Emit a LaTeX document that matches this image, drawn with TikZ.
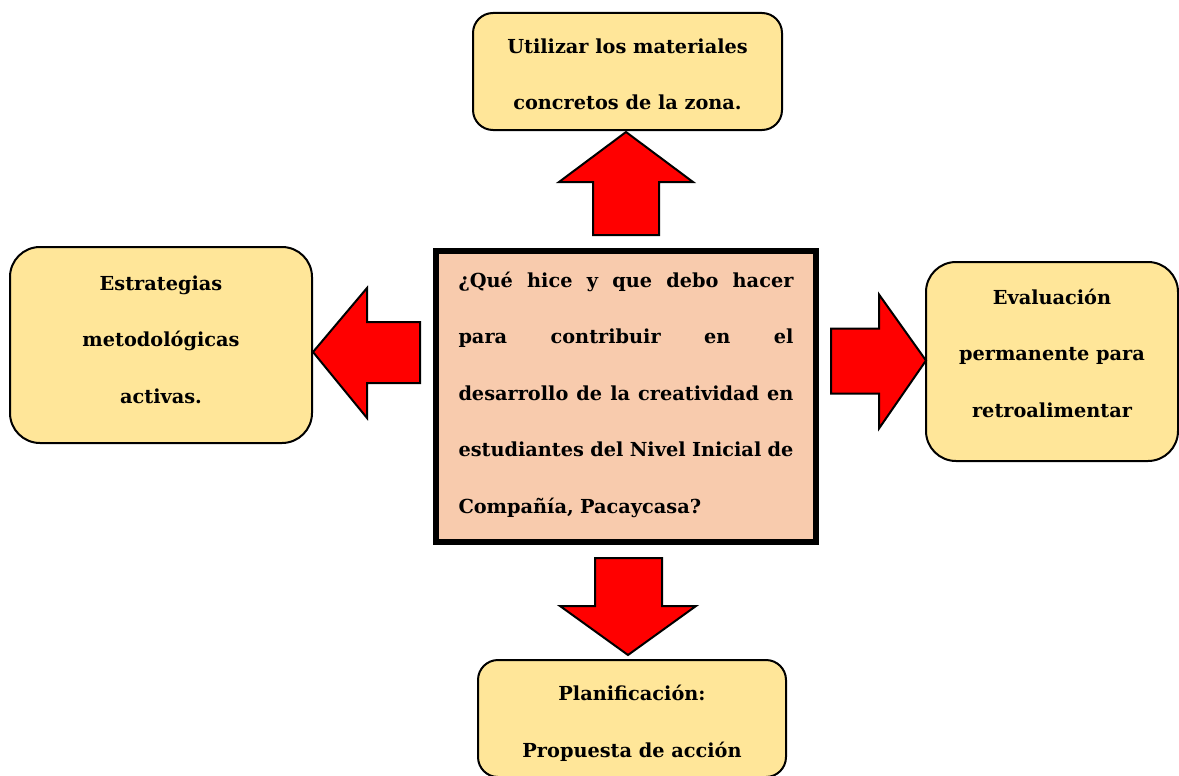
\documentclass[tikz,border=0pt]{standalone}
\usepackage{fontspec}
\setmainfont{DejaVu Serif}
\usepackage{xcolor}
\usepackage{tikz}
\usetikzlibrary{positioning, calc}
\definecolor{ideayellow}{HTML}{FFE699}
\definecolor{questionpeach}{HTML}{F8CBAD}
\definecolor{arrowred}{HTML}{FF0000}
\newcommand{\fullline}[1]{\hbox to 335pt{#1}}

\begin{document}
\begin{tikzpicture}[x=1pt, y=-1pt,
		every node/.style={font=\bfseries\fontsize{19.3}{56.5}\selectfont, inner sep=0pt},
		idea/.style={draw=black, line width=2pt, fill=ideayellow, rounded corners=#1, align=center, text depth=0pt},
		idea/.default=20pt,
		question/.style={draw=black, line width=5.5pt, fill=questionpeach, align=left, text width=335pt, text height=0pt},
		blockarrow/.style={draw=black, line width=2pt, fill=arrowred, line join=miter}]
		\useasboundingbox (0,0) rectangle (1179,776);
		\pgfmathsetmacro{\headhalf}{67}
		\pgfmathsetmacro{\shafthalf}{33}
		\pgfmathsetmacro{\headlen}{50}
		\pgfmathsetmacro{\shaftlen}{53}
		
		% centre question
		\node[question, minimum width=380pt, minimum height=291pt, text depth=219pt] (pregunta) at (626,396.5) {%
			\fullline{¿Qué\hfill hice\hfill y\hfill que\hfill debo\hfill hacer}
			\fullline{para\hfill contribuir\hfill en\hfill el}
			\fullline{desarrollo\hfill de\hfill la\hfill creatividad\hfill en}
			\fullline{estudiantes\hfill del\hfill Nivel\hfill Inicial\hfill de}
			Compañía, Pacaycasa?};
		
		% the four boxes around it
		\node[idea, minimum width=309pt, minimum height=117pt, text height=77pt] (materiales) at (627.5,71.5) {Utilizar los materiales\\concretos de la zona.};
		\node[idea=30pt, minimum width=302pt, minimum height=196pt, text height=116pt] (estrategias) at (161,345) {Estrategias\\metodológicas\\activas.};
		\node[idea=30pt, minimum width=252pt, minimum height=199pt, text height=111pt] (evaluacion) at (1052,361.5) {Evaluación\\permanente para\\retroalimentar};
		\node[idea, minimum width=308pt, minimum height=117pt, text height=77pt] (planificacion) at (632,718.5) {Planificación:\\Propuesta de acción};
		
		% red arrows, drawn from the tip
		\draw[blockarrow] (626,132) -- ++(-\headhalf,\headlen) -- ++(\headhalf-\shafthalf,0) -- ++(0,\shaftlen) -- ++(2*\shafthalf,0) -- ++(0,-\shaftlen) -- ++(\headhalf-\shafthalf,0) -- cycle;
		\draw[blockarrow] (313,352) -- ++(\headlen+4,-\headhalf+3) -- ++(0,\headhalf-\shafthalf) -- ++(\shaftlen,0) -- ++(0,2*\shafthalf-5) -- ++(-\shaftlen,0) -- ++(0,\headhalf-\shafthalf+1) -- cycle;
		\draw[blockarrow] (926,360.5) -- ++(-\headlen+3,-\headhalf+1) -- ++(0,\headhalf-\shafthalf) -- ++(-\shaftlen+5,0) -- ++(0,2*\shafthalf-1) -- ++(\shaftlen-5,0) -- ++(0,\headhalf-\shafthalf+1) -- cycle;
		\draw[blockarrow] (628,655) -- ++(-\headhalf-1,-\headlen+1) -- ++(\headhalf-\shafthalf+1,0) -- ++(0,-\shaftlen+5) -- ++(2*\shafthalf+1,0) -- ++(0,\shaftlen-5) -- ++(\headhalf-\shafthalf,0) -- cycle;
\end{tikzpicture}
\end{document}
